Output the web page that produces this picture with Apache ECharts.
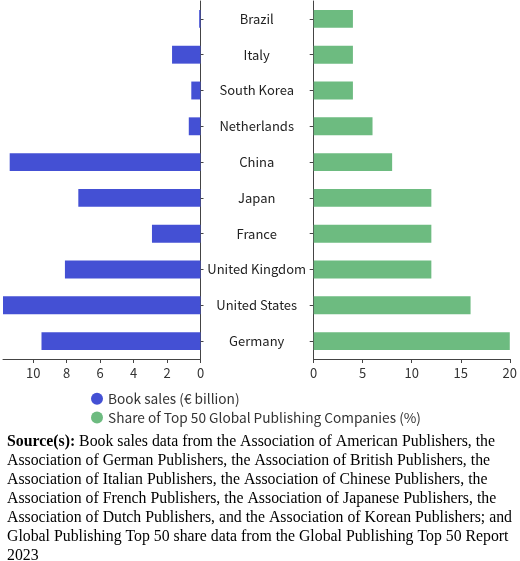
<!DOCTYPE html>
<html><head><meta charset="utf-8">
<script src="https://cdn.jsdelivr.net/npm/echarts@6/dist/echarts.min.js"></script>
<style>html,body{margin:0;padding:0;background:#fff}#c{width:520px;height:561px}</style>
</head><body><div id="c"></div>
<script>
const categories = ['Germany','United States','United Kingdom','France','Japan','China','Netherlands','South Korea','Italy','Brazil'];
const bookSales = [9.5, 11.8, 8.1, 2.9, 7.3, 11.4, 0.7, 0.55, 1.7, 0.08];
const top50Share = [20, 16, 12, 12, 12, 8, 6, 4, 4, 4];
const seriesNames = ['Book sales (€ billion)', 'Share of Top 50 Global Publishing Companies (%)'];
const sourceLines = [
  ' Book sales data from the Association of American Publishers, the',
  'Association of German Publishers, the Association of British Publishers, the',
  'Association of Italian Publishers, the Association of Chinese Publishers, the',
  'Association of French Publishers, the Association of Japanese Publishers, the',
  'Association of Dutch Publishers, and the Association of Korean Publishers; and',
  'Global Publishing Top 50 share data from the Global Publishing Top 50 Report',
  '2023'
];
const axisColor = '#444';
const font = 'Noto Sans CJK SC';
const chart = echarts.init(document.getElementById('c'));
chart.setOption({
  animation: false,
  textStyle: {fontFamily: font},
  title: {
    left: 2, top: 427,
    text: '{b|Source(s):}{r|' + sourceLines[0] + '}\n' + sourceLines.slice(1).map(s => '{r|' + s + '}').join('\n'),
    textStyle: {
      fontWeight: 'normal',
      rich: {
        b: {fontFamily: 'Liberation Serif', fontSize: 15.8, fontWeight: 'bold', color: '#000', lineHeight: 19},
        r: {fontFamily: 'Liberation Serif', fontSize: 15.8, fontWeight: 'normal', color: '#000', lineHeight: 19}
      }
    }
  },
  legend: {
    orient: 'vertical', left: 86, top: 387, itemWidth: 12, itemHeight: 12, itemGap: 5,
    icon: 'circle',
    textStyle: {fontFamily: font, fontSize: 13.7, color: '#333'},
    data: seriesNames
  },
  grid: [
    {left: 3, right: 319.5, top: 1, bottom: 202},
    {left: 313.7, right: 8.3, top: 1, bottom: 202}
  ],
  xAxis: [
    {gridIndex: 0, type: 'value', inverse: true, min: 0, max: 11.8, interval: 2,
     splitLine: {show: false},
     axisLine: {show: true, lineStyle: {color: axisColor}},
     axisTick: {show: true, length: 4, lineStyle: {color: axisColor}},
     axisLabel: {fontSize: 13, color: '#333', margin: 8, showMaxLabel: false}},
    {gridIndex: 1, type: 'value', min: 0, max: 20, interval: 5,
     splitLine: {show: false},
     axisLine: {show: true, lineStyle: {color: axisColor}},
     axisTick: {show: true, length: 4, lineStyle: {color: axisColor}},
     axisLabel: {fontSize: 13, color: '#333', margin: 8}}
  ],
  yAxis: [
    {gridIndex: 0, type: 'category', data: categories, position: 'right',
     axisLine: {show: true, lineStyle: {color: axisColor}},
     axisTick: {show: true, alignWithLabel: true, length: 3, lineStyle: {color: axisColor}},
     axisLabel: {show: false}},
    {gridIndex: 1, type: 'category', data: categories, position: 'left',
     axisLine: {show: true, lineStyle: {color: axisColor}},
     axisTick: {show: true, alignWithLabel: true, length: 4, lineStyle: {color: axisColor}},
     axisLabel: {fontSize: 13, color: '#222', align: 'center', margin: 57}}
  ],
  series: [
    {name: seriesNames[0], type: 'bar', xAxisIndex: 0, yAxisIndex: 0, data: bookSales,
     barCategoryGap: '50%', itemStyle: {color: '#4450d4'}},
    {name: seriesNames[1], type: 'bar', xAxisIndex: 1, yAxisIndex: 1, data: top50Share,
     barCategoryGap: '50%', itemStyle: {color: '#6dbb80'}}
  ]
});
</script></body></html>
